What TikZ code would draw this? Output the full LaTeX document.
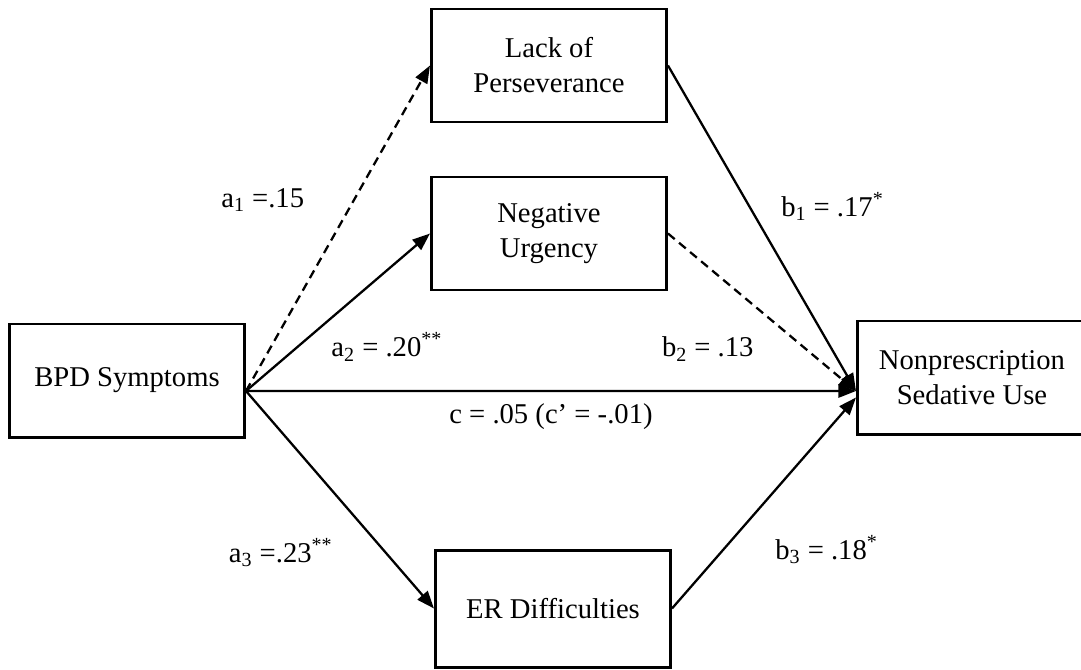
\documentclass[tikz,border=0pt]{standalone}
\usepackage{fontspec}
\setmainfont{Liberation Serif}
\usetikzlibrary{arrows.meta, positioning}

\begin{document}
\begin{tikzpicture}[
        box/.style={rectangle, draw=black, line width=1.7pt, minimum width=4.7cm, minimum height=2.26cm, align=center, font=\fontsize{16.3}{19.9}\selectfont},
        lbl/.style={inner sep=1pt, font=\fontsize{16.3}{19.9}\selectfont},
        arrow/.style={-{Triangle[length=10pt, width=7.5pt]}, line width=1.3pt},
        dasharrow/.style={arrow, dash pattern=on 5pt off 3.2pt},
        node distance=3.7cm
    ]
        \useasboundingbox (-2.54,-5.77) rectangle (19.08,7.61);

        % predictor and mediators
        \node[box] (bpd) {BPD Symptoms};
        \node[box, right=3.68cm of bpd, yshift=6.3cm] (lack) {Lack of\\Perseverance};
        \node[box, right=3.68cm of bpd, yshift=2.94cm] (urg) {Negative\\Urgency};
        \node[box, right=3.76cm of bpd, yshift=-4.56cm, minimum height=2.34cm] (erd) {ER Difficulties};

        % outcome
        \node[box, right=3.76cm of urg, yshift=-2.88cm, minimum width=4.58cm] (sed) {Nonprescription\\Sedative Use};

        \coordinate (src) at ([yshift=-0.21cm]bpd.east);
        \coordinate (sink) at ([yshift=-0.27cm]sed.west);
        \coordinate (sinklow) at ([yshift=-0.4cm]sed.west);

        % a paths
        \draw[dasharrow] (src) -- node[lbl, pos=0.587, left=0.94cm] (la1) {a\textsubscript{1} =.15} (lack.west);
        \draw[arrow] (src) -- (urg.west);
        \draw[arrow] (src) -- node[lbl, pos=0.742, left=1.0cm] (la3) {a\textsubscript{3} =.23\textsuperscript{**}} (erd.west);

        % direct path
        \draw[arrow] (src) -- node[lbl, pos=0.231, above=0.54cm] (la2) {a\textsubscript{2} = .20\textsuperscript{**}}
            node[lbl, pos=0.757, above=0.54cm] (lb2) {b\textsubscript{2} = .13}
            node[lbl, pos=0.5, below=0.2cm] (lc) {c = .05 (c' = -.01)} (sink);

        % b paths
        \draw[arrow] (lack.east) -- node[lbl, pos=0.433, right=0.58cm] (lb1) {b\textsubscript{1} = .17\textsuperscript{*}} (sink);
        \draw[dasharrow] (urg.east) -- (sink);
        \draw[arrow] (erd.east) -- node[lbl, pos=0.28, right=0.98cm] (lb3) {b\textsubscript{3} = .18\textsuperscript{*}} (sinklow);
    \end{tikzpicture}
\end{document}
